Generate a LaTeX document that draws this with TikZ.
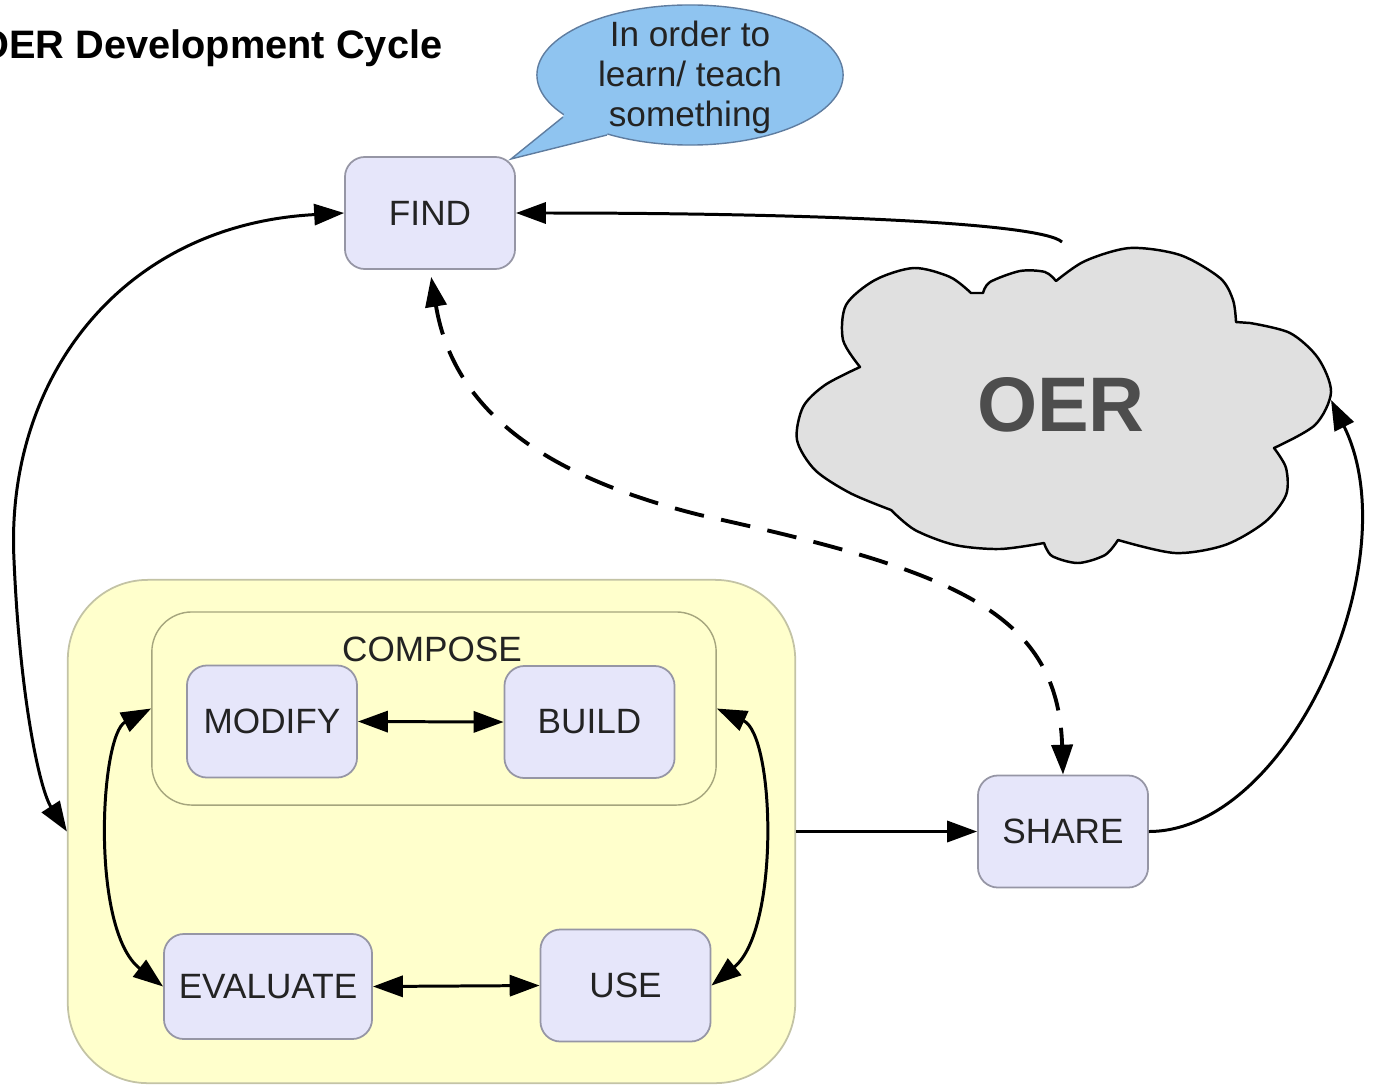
\documentclass[tikz,border=0pt]{standalone}
\usepackage{fontspec}
\setmainfont{Liberation Sans}
\usetikzlibrary{arrows.meta,shapes.geometric}
\definecolor{boxfill}{RGB}{230,230,250}
\definecolor{boxline}{RGB}{150,150,165}
\definecolor{yel}{RGB}{255,255,204}
\definecolor{yelline}{RGB}{195,195,165}
\definecolor{innerline}{RGB}{165,165,125}
\definecolor{bubblefill}{RGB}{143,196,240}
\definecolor{bubbleline}{RGB}{95,125,160}
\definecolor{cloudfill}{RGB}{224,224,224}
\definecolor{txt}{RGB}{35,35,35}
\definecolor{oertxt}{RGB}{77,77,77}
\begin{document}
\begin{tikzpicture}[x=0.01cm,y=-0.01cm,
  stepbox/.style={draw=boxline, line width=0.5pt, fill=boxfill, rounded corners=0.2cm,
    minimum width=1.7cm, minimum height=1.12cm, inner sep=0pt,
    font=\fontsize{10}{12}\selectfont, text=txt},
  conn/.style={line width=0.85pt, -{Triangle[length=8.5pt,width=6pt]}},
  dconn/.style={line width=0.85pt, {Triangle[length=8.5pt,width=6pt]}-{Triangle[length=8.5pt,width=6pt]}},
  dashconn/.style={dconn, line width=1.1pt, dash pattern=on 8.5pt off 5pt}
]
\useasboundingbox (0,0) rectangle (1383,1085);

% title
\node[anchor=base east, font=\bfseries\fontsize{11.3}{13}\selectfont, text=black, inner sep=0pt] (title) at (443,59) {OER Development Cycle};

% compose container
\node[draw=yelline, fill=yel, line width=0.5pt, rounded corners=0.8cm, minimum width=7.27cm, minimum height=5.03cm, inner sep=0pt] (outer) at (431.5,831.5) {};
\node[draw=innerline, fill=yel, line width=0.4pt, rounded corners=0.4cm, minimum width=5.64cm, minimum height=1.93cm, inner sep=0pt] (inner) at (434,708.5) {};
\node[font=\fontsize{10}{12}\selectfont, text=txt, inner sep=0pt] (composelbl) at (432,649) {COMPOSE};

% boxes
\node[stepbox] (find) at (430,213) {FIND};
\node[stepbox] (modify) at (272,721.5) {MODIFY};
\node[stepbox] (build) at (589.5,722) {BUILD};
\node[stepbox, minimum width=2.08cm, minimum height=1.05cm] (evaluate) at (268,986.5) {EVALUATE};
\node[stepbox] (use) at (625.5,985.5) {USE};
\node[stepbox] (share) at (1063,831.5) {SHARE};

% speech bubble
\coordinate (tailtip) at (511,159);
\draw[fill=bubblefill, draw=bubbleline, line width=0.4pt] (690,75) ellipse [x radius=1.53cm, y radius=0.70cm];
\fill[bubblefill] (566,110) -- (563,117) -- (tailtip) -- (607,135) -- (610,126) -- cycle;
\draw[bubbleline, line width=0.4pt] (563,117) -- (tailtip) -- (607,135);
\node[align=center, font=\fontsize{10}{11.4}\selectfont, text=txt, inner sep=0pt] (bubble) at (690,77) {In order to\\learn/ teach\\something};

% cloud
\draw[fill=cloudfill, line width=0.7pt, line join=round]
  plot[smooth] coordinates {(860,367) (843,340) (846,305) (875,280) (914,268) (950,277) (971,293)}
  -- (983,293)
  -- plot[smooth] coordinates {(983,293) (990,282) (1020,271) (1045,272) (1056,281)}
  -- plot[smooth] coordinates {(1056,281) (1085,261) (1130,248) (1180,255) (1220,278) (1233,300) (1236,322)}
  -- (1250,323)
  -- plot[smooth] coordinates {(1250,323) (1290,333) (1318,358) (1331,392) (1315,425) (1274,448)}
  -- plot[smooth] coordinates {(1274,448) (1286,468) (1286,495) (1265,522) (1225,545) (1175,553) (1118,540)}
  -- plot[smooth] coordinates {(1118,540) (1105,555) (1078,563) (1052,556) (1044,543)}
  -- plot[smooth] coordinates {(1044,543) (1000,549) (955,545) (915,530) (891,510)}
  -- plot[smooth] coordinates {(891,510) (850,493) (815,470) (797,440) (803,407) (825,385) (860,367)}
  -- cycle;
\node[font=\bfseries\fontsize{22}{26}\selectfont, text=oertxt, inner sep=0pt] (oer) at (1061,405) {OER};
\coordinate (cloudtop) at (1062,242);
\coordinate (cloudright) at (1331,400);

% connectors
\draw[conn] (cloudtop) .. controls (1040,222) and (800,213) .. (find.east);
\draw[dconn] (find.west) .. controls (120,225) and (5,380) .. (14,560) .. controls (20,700) and (40,790) .. (outer.west);
\draw[dconn] (modify.east) -- (build.west);
\draw[dconn] (evaluate.east) -- (use.west);
\draw[dconn] (inner.west) .. controls (100,735) and (90,930) .. (evaluate.west);
\draw[dconn] (inner.east) .. controls (775,735) and (780,930) .. (use.east);
\draw[conn] (outer.east) -- (share.west);
\draw[conn] (share.east) .. controls (1290,831) and (1410,560) .. (cloudright);
\draw[dashconn, shorten <=2pt] (find.south) .. controls (455,420) and (560,480) .. (700,515) .. controls (950,570) and (1058,610) .. (share.north);
\end{tikzpicture}
\end{document}
